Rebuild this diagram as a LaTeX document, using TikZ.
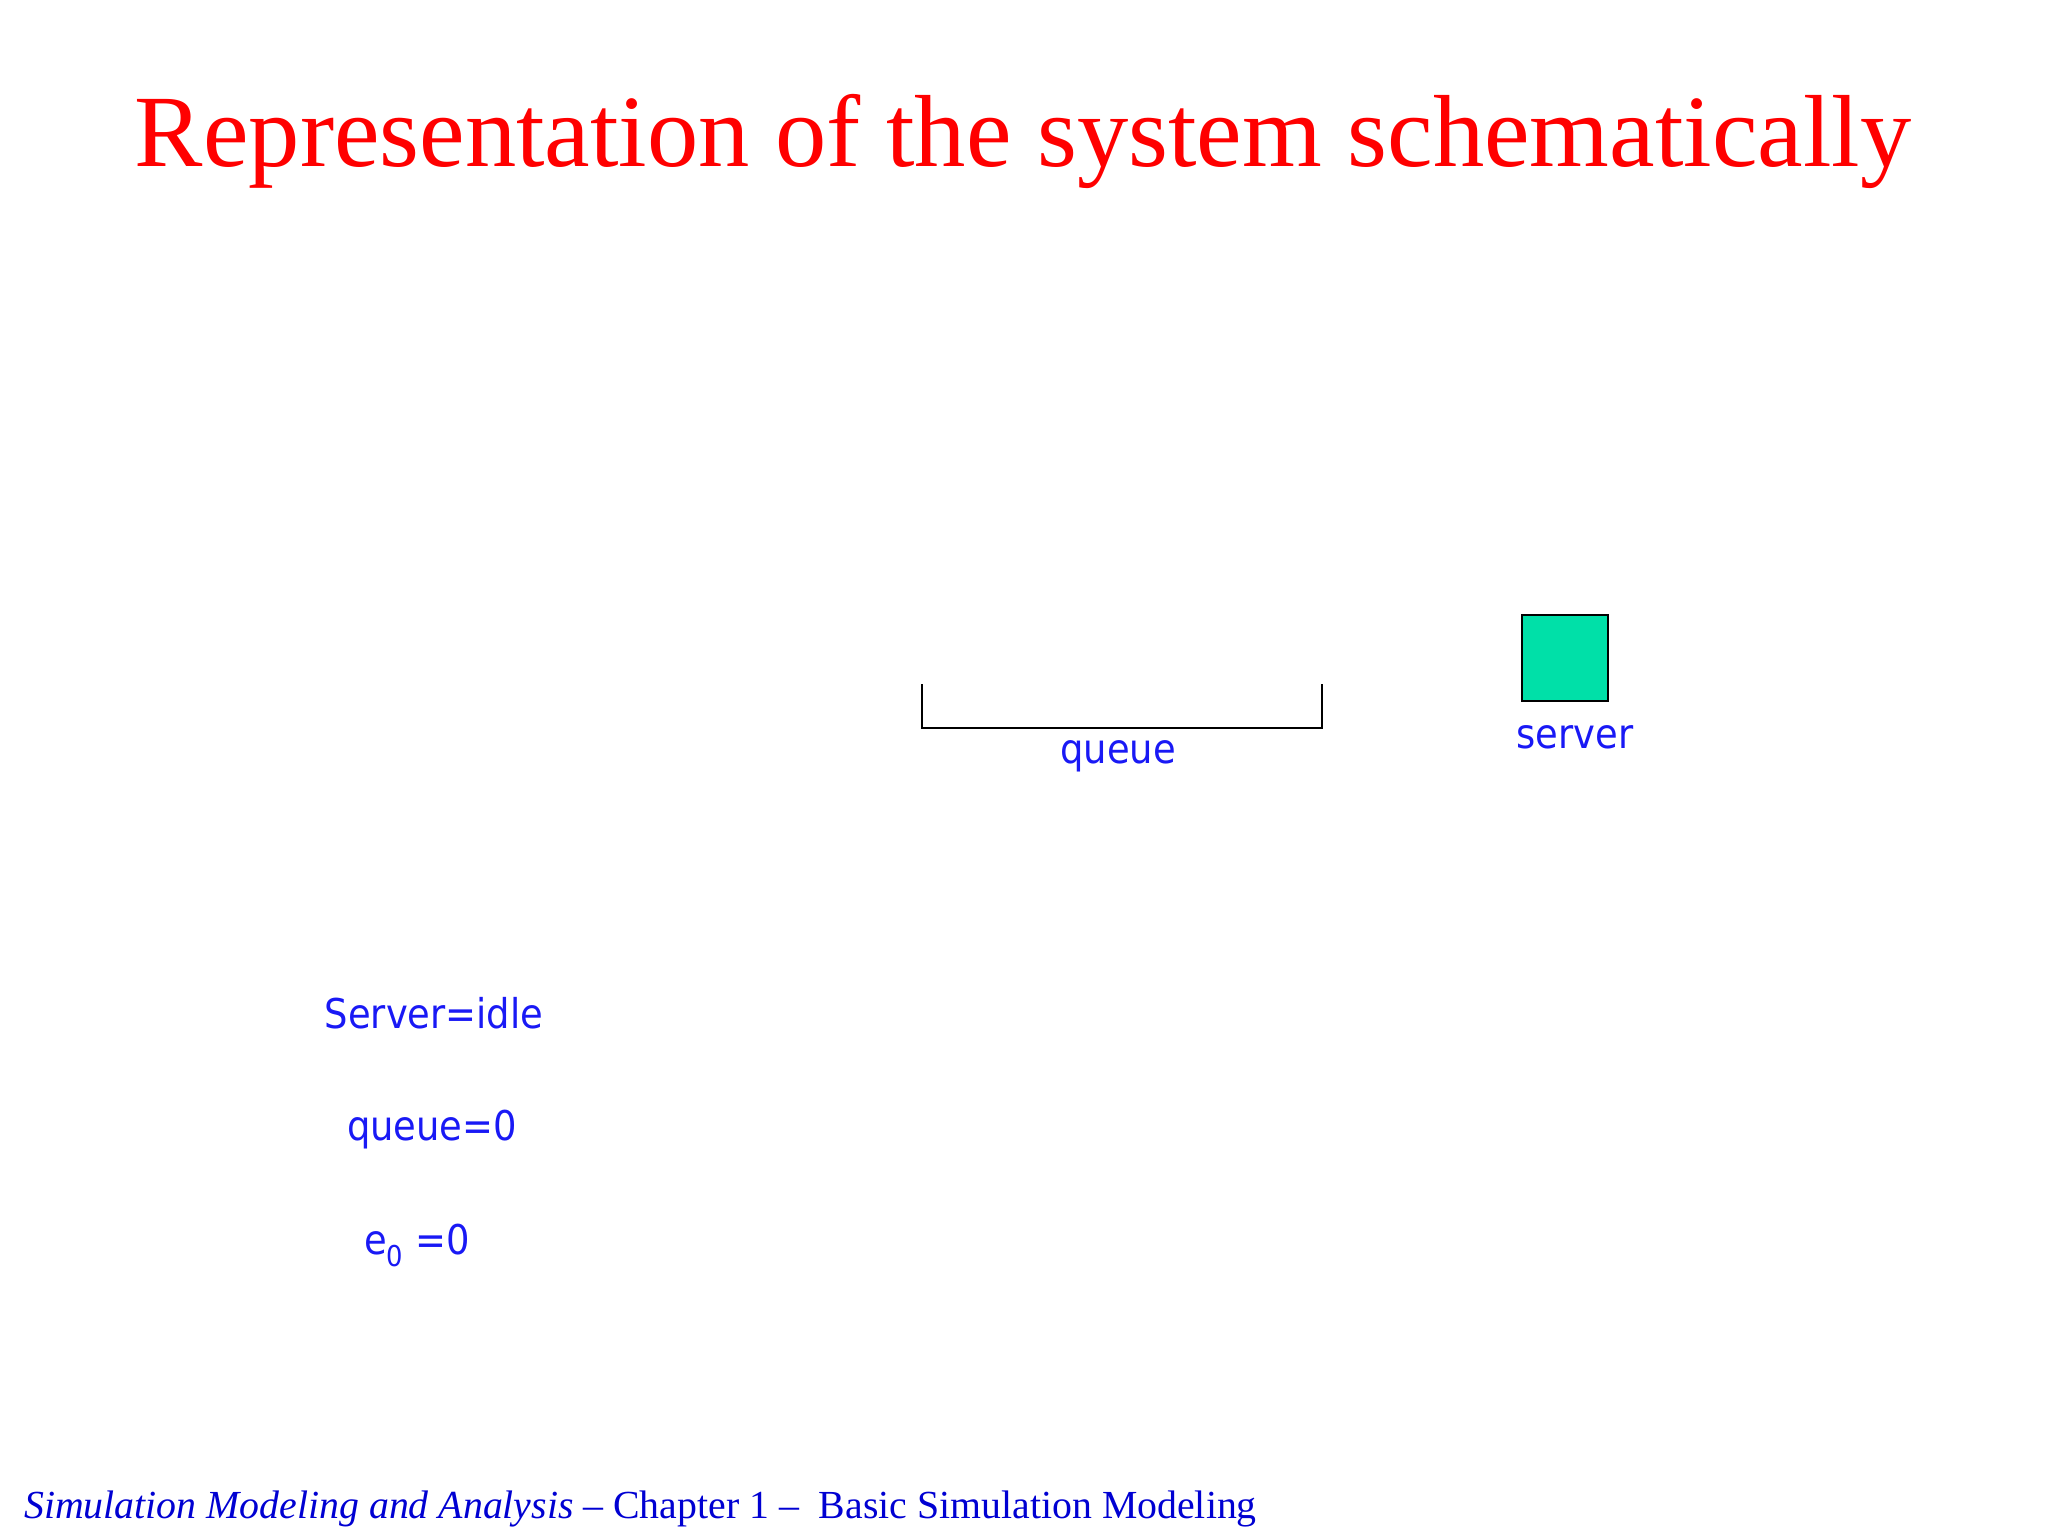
\documentclass[tikz,border=0pt]{standalone}
\usepackage{fontspec}
\setmainfont{Liberation Serif}
\newfontfamily\labelfont[FakeStretch=0.9]{DejaVu Sans}
\definecolor{titlered}{RGB}{255,0,0}
\definecolor{lblblue}{RGB}{25,25,245}
\definecolor{footblue}{RGB}{0,0,210}
\definecolor{servergreen}{RGB}{0,224,168}
\tikzset{
  lbl/.style={inner sep=0pt, text=lblblue, font=\labelfont\fontsize{41}{48}\selectfont, anchor=base},
  ttl/.style={inner sep=0pt, text=titlered, font=\fontsize{102.5}{120}\selectfont, anchor=base},
  foot/.style={inner sep=0pt, text=footblue, font=\fontsize{39.8}{48}\selectfont, anchor=base west},
  queueline/.style={draw=black, line width=2pt},
  serverbox/.style={draw=black, line width=2pt, fill=servergreen, minimum width=86pt, minimum height=86pt, inner sep=0pt}
}
\begin{document}
\begin{tikzpicture}[x=1pt,y=-1pt]
\useasboundingbox (0,0) rectangle (2048,1536);
\node[ttl] (title) at (1023,167) {Representation of the system schematically};
\coordinate (qtl) at (922,684);
\coordinate (qbl) at (922,728);
\coordinate (qbr) at (1322,728);
\coordinate (qtr) at (1322,684);
\draw[queueline] (qtl) -- (qbl) -- (qbr) -- (qtr);
\node[lbl] (queuelbl) at (1118,763) {queue};
\node[serverbox] (server) at (1564.5,658) {};
\node[lbl] (serverlbl) at (1575,748) {server};
\node[lbl] (state1) at (434,1028) {Server=idle};
\node[lbl] (state2) at (432,1140) {queue=0};
\node[lbl] (state3) at (417,1254) {e\textsubscript{0} =0};
\node[foot] (footer) at (24,1518) {\textit{Simulation Modeling and Analysis} -- Chapter 1 --\ \ Basic Simulation Modeling};
\end{tikzpicture}
\end{document}
